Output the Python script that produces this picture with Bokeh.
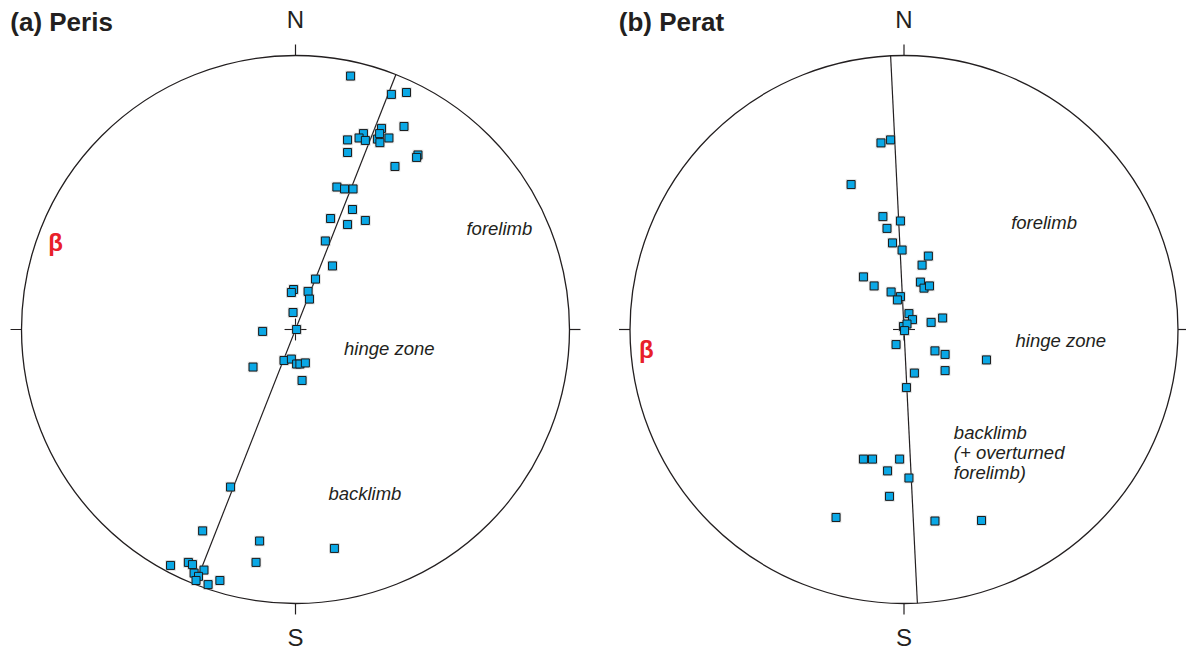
import numpy as np
from bokeh.plotting import figure
from bokeh.models import Range1d
from bokeh.core.properties import value
from bokeh.embed import file_html
from bokeh.resources import INLINE

# ---------------- data (projected pole positions, unit net radius) ----------------
peris_x = [0.201, 0.350, 0.405, 0.396, 0.314, 0.248, 0.232, 0.255, 0.190, 0.299,
           0.308, 0.307, 0.341, 0.190, 0.447, 0.442, 0.363, 0.151, 0.179, 0.210,
           0.208, 0.128, 0.190, 0.255, 0.109, 0.135, 0.073, -0.007, -0.015, 0.046,
           0.051, -0.009, -0.120, 0.004, -0.042, -0.015, 0.004, 0.016, 0.036, -0.155,
           0.024, -0.237, -0.339, -0.131, 0.142, -0.144, -0.456, -0.391, -0.376, -0.370,
           -0.334, -0.354, -0.363, -0.319, -0.276]
peris_y = [0.925, 0.858, 0.865, 0.741, 0.734, 0.715, 0.699, 0.690, 0.692, 0.695,
           0.682, 0.715, 0.699, 0.646, 0.637, 0.628, 0.595, 0.520, 0.513, 0.513,
           0.438, 0.405, 0.383, 0.398, 0.323, 0.232, 0.184, 0.146, 0.135, 0.139,
           0.111, 0.062, -0.007, 0.000, -0.113, -0.108, -0.126, -0.126, -0.122, -0.137,
           -0.186, -0.575, -0.735, -0.772, -0.799, -0.850, -0.861, -0.850, -0.858, -0.889,
           -0.878, -0.901, -0.916, -0.931, -0.916]

perat_x = [-0.084, -0.049, -0.193, -0.077, -0.013, -0.062, -0.042, -0.007, 0.089, 0.066,
           -0.148, -0.109, -0.047, -0.013, -0.024, 0.060, 0.073, 0.093, 0.018, 0.031,
           0.099, 0.141, -0.002, 0.011, 0.002, -0.029, 0.113, 0.150, 0.301, 0.038,
           0.150, 0.009, -0.148, -0.115, -0.016, -0.060, 0.018, -0.053, -0.248, 0.113,
           0.283]
perat_y = [0.681, 0.692, 0.529, 0.412, 0.396, 0.369, 0.316, 0.290, 0.268, 0.235,
           0.192, 0.159, 0.137, 0.120, 0.108, 0.173, 0.151, 0.159, 0.058, 0.036,
           0.026, 0.042, 0.011, 0.020, -0.004, -0.055, -0.078, -0.091, -0.111, -0.159,
           -0.150, -0.212, -0.473, -0.473, -0.473, -0.516, -0.542, -0.609, -0.686, -0.699,
           -0.697]

# azimuth (deg) of the vertical beta-plane drawn through each net
peris_plane_az = 21.5
perat_plane_az = 357.2

titles = ["(a) Peris", "(b) Perat"]

# ---------------- layout ----------------
SCALE = 274.0          # px per unit radius
W, H = 1186, 653
LCX_PX, CY_PX = 295.0, 329.0
RIGHT_OFF = (903.5 - 295.0) / SCALE

p = figure(width=W, height=H,
           x_range=Range1d(-LCX_PX / SCALE, (W - LCX_PX) / SCALE),
           y_range=Range1d(-(H - CY_PX) / SCALE, CY_PX / SCALE),
           output_backend="svg", toolbar_location=None,
           x_axis_location=None, y_axis_location=None, min_border=0)
p.grid.visible = False
p.outline_line_color = None
p.background_fill_color = "white"
p.border_fill_color = "white"

INK = "#231f20"
FONT = value("Liberation Sans")
TK = 0.04

nets = [
    (0.0, peris_x, peris_y, peris_plane_az, titles[0]),
    (RIGHT_OFF, perat_x, perat_y, perat_plane_az, titles[1]),
]

label_specs = [
    # (net index, text, dx, dy)
    (0, "forelimb", 0.624, 0.369),
    (0, "hinge zone", 0.177, -0.069),
    (0, "backlimb", 0.120, -0.597),
    (1, "forelimb", 0.391, 0.392),
    (1, "hinge zone", 0.407, -0.040),
    (1, "backlimb", 0.182, -0.377),
    (1, "(+ overturned", 0.182, -0.448),
    (1, "forelimb)", 0.182, -0.521),
]
beta_pos = [(-0.876, 0.316), (-0.940, -0.073)]

for i, (ox, xs, ys, az, title) in enumerate(nets):
    # primitive circle
    p.circle(x=[ox], y=[0], radius=1.0, fill_color=None, line_color=INK, line_width=1.3)
    # N, S, E, W ticks
    p.segment(x0=[ox, ox, ox + 1, ox - 1], y0=[1, -1, 0, 0],
              x1=[ox, ox, ox + 1 + TK, ox - 1 - TK], y1=[1 + TK, -1 - TK, 0, 0],
              line_color=INK, line_width=1.2)
    # centre cross
    p.segment(x0=[ox - TK, ox], y0=[0, -TK], x1=[ox + TK, ox], y1=[0, TK],
              line_color=INK, line_width=1.1)
    # beta plane (vertical great circle -> diameter)
    a = np.radians(az)
    p.line(x=[ox + np.sin(a), ox - np.sin(a)], y=[np.cos(a), -np.cos(a)],
           line_color=INK, line_width=1.2)
    # poles
    px = [ox + v for v in xs]
    p.scatter(px, ys, marker="square", size=10.5, fill_color="#9a9a9a",
              fill_alpha=0.35, line_color=None)
    p.scatter(px, ys, marker="square", size=8, fill_color="#0aa8e6",
              line_color="#1a1a1a", line_width=1.0)
    # N / S labels
    p.text(x=[ox, ox], y=[1.1296, -1.124], text=["N", "S"], text_font=FONT,
           text_font_size="24px", text_color=INK, text_align="center",
           text_baseline="middle")
    # title
    p.text(x=[ox - 1.041], y=[1.122], text=[title], text_font=FONT,
           text_font_size="26px", text_font_style="bold", text_color=INK,
           text_align="left", text_baseline="middle")
    # beta
    bx, by = beta_pos[i]
    p.text(x=[ox + bx], y=[by], text=["β"], text_font=FONT, text_font_size="24px",
           text_font_style="bold", text_color="#e8202a", text_align="center",
           text_baseline="middle")

for ni, t, dx, dy in label_specs:
    ox = nets[ni][0]
    p.text(x=[ox + dx], y=[dy], text=[t], text_font=FONT, text_font_size="18.5px",
           text_font_style="italic", text_color=INK, text_align="left",
           text_baseline="middle")

open("out.html", "w").write(file_html(p, INLINE))
